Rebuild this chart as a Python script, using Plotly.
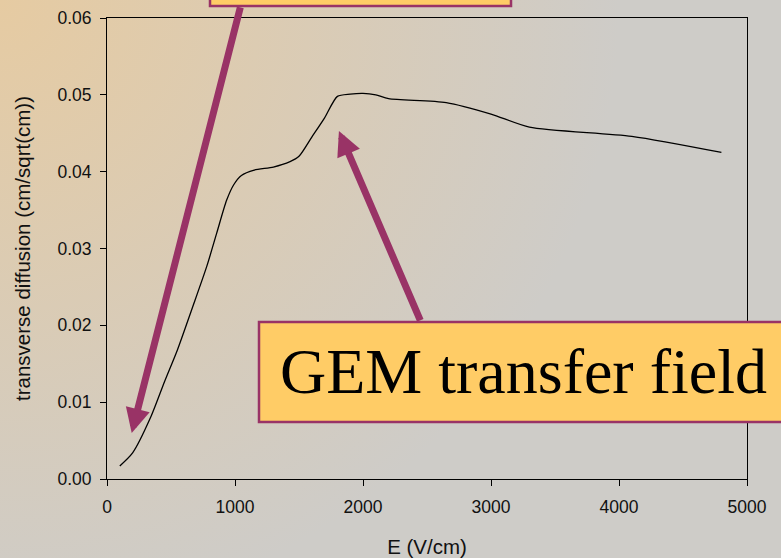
import base64
import plotly.graph_objects as go

# Data
E_field = [100, 200, 340, 450, 550, 665, 780, 857, 935, 990, 1050, 1150, 1300, 1430,
           1500, 1600, 1700, 1800, 1900, 2000, 2100, 2200, 2650, 3000, 3300, 4100, 4800]
diffusion = [0.0017, 0.0034, 0.0080, 0.0127, 0.0168, 0.0222, 0.0277, 0.0320, 0.0363,
             0.0383, 0.0395, 0.0402, 0.0406, 0.0413, 0.0420, 0.0445, 0.0470, 0.0498, 0.0501,
             0.0502, 0.0500, 0.0495, 0.0490, 0.0475, 0.0458, 0.0446, 0.0425]
x_ticks = [0, 1000, 2000, 3000, 4000, 5000]
y_ticks = [0.00, 0.01, 0.02, 0.03, 0.04, 0.05, 0.06]
box_text = "GEM transfer field"
x_title = "E (V/cm)"
y_title = "transverse diffusion (cm/sqrt(cm))"

W, H = 781, 558
L, R, T, B = 107, 34, 18, 79
PW, PH = W - L - R, H - T - B

def px(xp):
    return (xp - L) / PW

def py(yp):
    return (H - B - yp) / PH

svg = (f'<svg xmlns="http://www.w3.org/2000/svg" width="{W}" height="{H}">'
       '<defs><radialGradient id="g" cx="0" cy="0" r="620" gradientUnits="userSpaceOnUse">'
       '<stop offset="0" stop-color="#E6CBA2"/><stop offset="1" stop-color="#CECCC8"/>'
       '</radialGradient></defs>'
       f'<rect width="{W}" height="{H}" fill="url(#g)"/></svg>')
bg_uri = "data:image/svg+xml;base64," + base64.b64encode(svg.encode()).decode()

fig = go.Figure()
fig.add_trace(go.Scatter(x=E_field, y=diffusion, mode="lines",
                         line=dict(color="black", width=1.3, shape="spline", smoothing=0.7),
                         showlegend=False, hoverinfo="skip"))

tick_font = dict(family="Liberation Sans, Arial", size=17.5, color="#111111")
title_font = dict(family="Liberation Sans, Arial", size=20.5, color="#111111")
axis_common = dict(showline=True, linecolor="black", linewidth=1, mirror=True,
                   ticks="outside", ticklen=6, tickcolor="black", showgrid=False,
                   zeroline=False, tickfont=tick_font, automargin=False)

fig.update_layout(
    width=W, height=H,
    margin=dict(l=L, r=R, t=T, b=B, pad=0, autoexpand=False),
    paper_bgcolor="#CECCC8", plot_bgcolor="rgba(0,0,0,0)",
    xaxis=dict(range=[0, 5000], tickvals=x_ticks, ticklabelstandoff=6, **axis_common,
               title=dict(text=x_title, font=title_font, standoff=23)),
    yaxis=dict(range=[0, 0.06], tickvals=y_ticks, tickformat=".2f", ticklabelstandoff=5,
               **axis_common,
               title=dict(text=y_title, font=title_font, standoff=21)),
    images=[dict(source=bg_uri, xref="paper", yref="paper", x=px(0), y=py(0),
                 sizex=W / PW, sizey=H / PH, xanchor="left", yanchor="top",
                 sizing="stretch", layer="below")],
    shapes=[
        dict(type="rect", xref="paper", yref="paper", x0=px(210), x1=px(511),
             y0=py(6), y1=py(-40), fillcolor="#FFCC66",
             line=dict(color="#993366", width=2.5), layer="above"),
        dict(type="rect", xref="paper", yref="paper", x0=px(259), x1=px(800),
             y0=py(422), y1=py(322), fillcolor="#FFCC66",
             line=dict(color="#993366", width=2.5), layer="above"),
    ],
    annotations=[
        dict(x=193, y=0.0060, xref="x", yref="y", ax=109, ay=-427, text="",
             showarrow=True, arrowhead=2, arrowsize=0.7, arrowwidth=7,
             arrowcolor="#993366", standoff=0),
        dict(x=1812, y=0.0453, xref="x", yref="y", ax=82, ay=191, text="",
             showarrow=True, arrowhead=2, arrowsize=0.7, arrowwidth=7,
             arrowcolor="#993366", standoff=0),
        dict(x=px(523.5), y=py(371), xref="paper", yref="paper", text=box_text,
             showarrow=False, xanchor="center", yanchor="middle",
             font=dict(family="Liberation Serif, Times New Roman", size=64, color="black")),
    ],
)

fig.write_html("out.html", config={"displayModeBar": False},
               post_script="document.body.style.margin='0';document.body.style.overflow='hidden';")
